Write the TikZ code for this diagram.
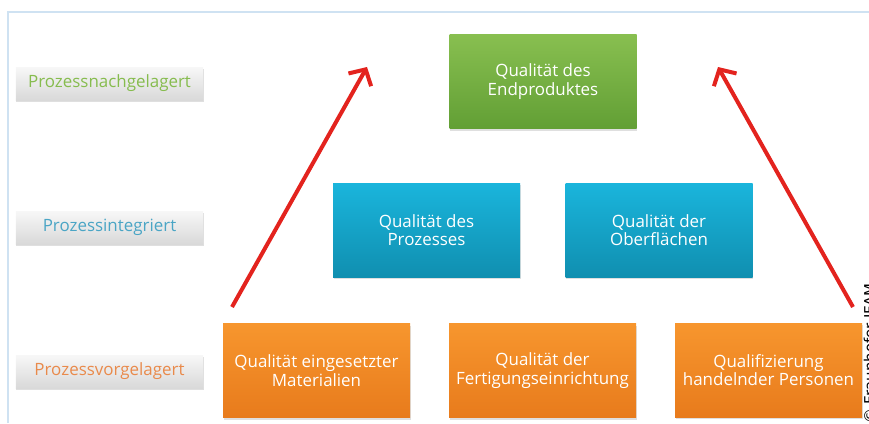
\documentclass[tikz,border=0pt]{standalone}
\usepackage{fontspec}
\setmainfont{Open Sans}
\newfontfamily\copyfont{DejaVu Sans}
\usetikzlibrary{arrows.meta,shadows}

\definecolor{framebl}{HTML}{CFE2F2}
\definecolor{arrowred}{HTML}{E3231E}
\definecolor{nachtxt}{HTML}{86BC4E}
\definecolor{integtxt}{HTML}{4AA5C5}
\definecolor{vortxt}{HTML}{E98A4B}
\definecolor{grtop}{HTML}{88BF50}
\definecolor{grbot}{HTML}{629F35}
\definecolor{bltop}{HTML}{1AB5DC}
\definecolor{blbot}{HTML}{108FB0}
\definecolor{ortop}{HTML}{F7962E}
\definecolor{orbot}{HTML}{E87B1C}

\tikzset{
  stage/.style={minimum width=187bp, minimum height=33bp, inner sep=0pt,
    top color=gray!6, bottom color=gray!30,
    drop shadow={shadow xshift=0.5bp, shadow yshift=-2bp, opacity=0.25},
    font=\fontsize{17}{18}\selectfont},
  qbox/.style={minimum width=187bp, minimum height=94bp, inner sep=0pt,
    align=center, text=white,
    drop shadow={shadow xshift=0.5bp, shadow yshift=-2bp, opacity=0.25},
    font=\fontsize{17}{18.5}\selectfont},
  greenbox/.style={qbox, top color=grtop, bottom color=grbot},
  bluebox/.style={qbox, top color=bltop, bottom color=blbot},
  orangebox/.style={qbox, top color=ortop, bottom color=orbot},
  uparrow/.style={draw=arrowred, line width=4bp,
    -{Straight Barb[length=12bp,width=26bp]}}
}

\begin{document}
\begin{tikzpicture}[x=1bp,y=-1bp]

\clip (0,0) rectangle (869,423);

% frame
\draw [framebl, line width=2.5bp] (8,423) |- (869,12);

\coordinate (nach-pos) at (109.5,83.5);
\coordinate (integ-pos) at (109.5,227.5);
\coordinate (vor-pos) at (109.5,371.5);

\coordinate (endprod-pos) at (543,81.5);
\coordinate (prozess-pos) at (426.5,230);
\coordinate (oberfl-pos) at (659,230);
\coordinate (material-pos) at (316.5,370.5);
\coordinate (fertig-pos) at (542.5,370.5);
\coordinate (personen-pos) at (768.5,370);

\coordinate (l-start) at (232,307);
\coordinate (l-end) at (367,67);
\coordinate (r-start) at (853,307);
\coordinate (r-end) at (718,67);

\node [stage, text=nachtxt] (nach) at (nach-pos) {Prozessnachgelagert};
\node [stage, text=integtxt] (integ) at (integ-pos) {Prozessintegriert};
\node [stage, text=vortxt] (vor) at (vor-pos) {Prozessvorgelagert};

\node [greenbox] (endprod) at (endprod-pos) {Qualität des\\Endproduktes};
\node [bluebox] (prozess) at (prozess-pos) {Qualität des\\Prozesses};
\node [bluebox] (oberfl) at (oberfl-pos) {Qualität der\\Oberflächen};
\node [orangebox] (material) at (material-pos) {Qualität eingesetzter\\Materialien};
\node [orangebox] (fertig) at (fertig-pos) {Qualität der\\Fertigungseinrichtung};
\node [orangebox] (personen) at (personen-pos) {Qualifizierung\\handelnder Personen};

\draw [uparrow] (l-start) -- (l-end);
\draw [uparrow] (r-start) -- (r-end);

\node [rotate=90, anchor=north west, inner sep=0pt,
  font=\copyfont\fontsize{15}{15}\selectfont] (copy) at (863.5,424)
  {© Fraunhofer IFAM};

\end{tikzpicture}
\end{document}
